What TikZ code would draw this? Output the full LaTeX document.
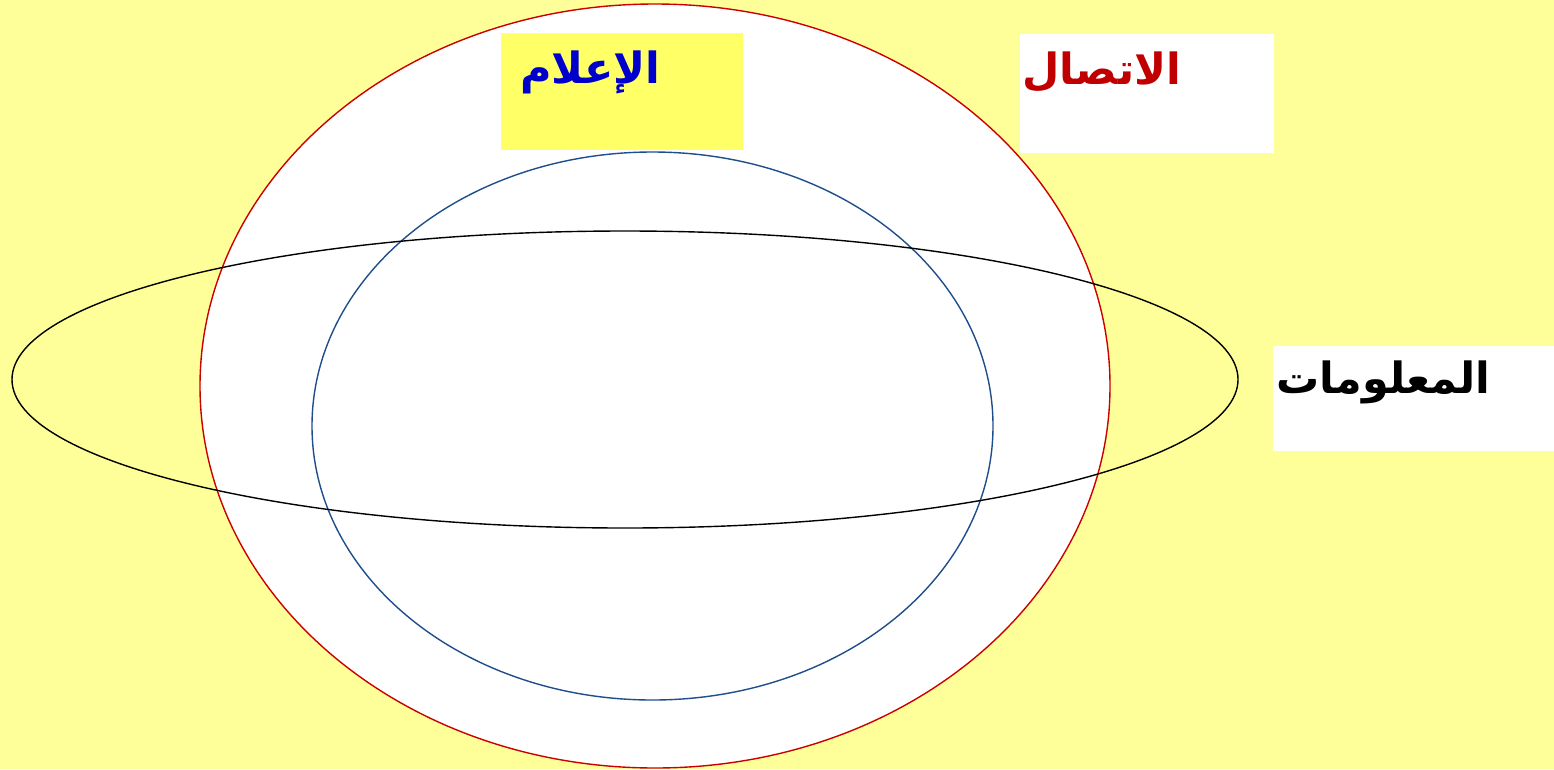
\documentclass[tikz,border=0pt]{standalone}
\usepackage{fontspec}
\TeXXeTstate=1
\newfontfamily\arabicfont[Script=Arabic]{DejaVu Sans}
\definecolor{bgyellow}{HTML}{FFFF99}
\definecolor{boxyellow}{HTML}{FFFF66}
\definecolor{redline}{HTML}{CC0000}
\definecolor{redtext}{HTML}{C00000}
\definecolor{blueline}{HTML}{1F4E8C}
\definecolor{bluetext}{HTML}{0000CC}
\tikzset{
  ring/.style={line width=1.4pt},
  labelbox/.style={draw=none},
  arlabel/.style={inner sep=0pt, anchor=base west, font=\arabicfont\bfseries\fontsize{43}{50}\selectfont}
}
\begin{document}
\begin{tikzpicture}[x=1pt,y=-1pt]
\useasboundingbox (0,0) rectangle (1554,769);
\fill[bgyellow] (0,0) rectangle (1554,769);
% outer red ellipse (communication)
\draw[ring, redline, fill=white] (655,386) ellipse [x radius=455, y radius=382];
% inner blue ellipse (media)
\draw[ring, blueline] (652.5,426) ellipse [x radius=340.5, y radius=274];
% black ellipse (information)
\draw[ring, black] (625,379.5) ellipse [x radius=613, y radius=148.5];
% label boxes
\fill[labelbox, boxyellow] (501,33) rectangle (743,150);
\fill[labelbox, white] (1020,34) rectangle (1274,153);
\fill[labelbox, white] (1273,346) rectangle (1554,451);
\node[arlabel, text=bluetext] (media) at (520,83) {\beginR الإعلام\endR};
\node[arlabel, text=redtext] (comm) at (1022,84) {\beginR الاتصال\endR};
\node[arlabel, text=black] (info) at (1276,393) {\beginR المعلومات\endR};
\end{tikzpicture}
\end{document}
